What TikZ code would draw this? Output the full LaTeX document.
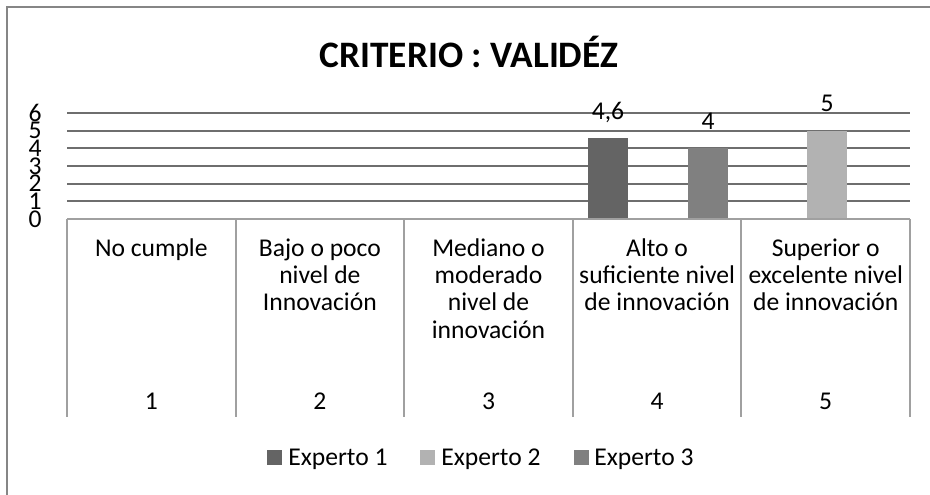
\documentclass[tikz,border=0pt]{standalone}
\usepackage{fontspec}
\setmainfont{Carlito}
\definecolor{framegray}{RGB}{134,134,134}
\definecolor{gridgray}{RGB}{110,110,110}
\definecolor{axisgray}{RGB}{160,160,160}
\definecolor{expA}{RGB}{100,100,100}
\definecolor{expB}{RGB}{178,178,178}
\definecolor{expC}{RGB}{128,128,128}
\newcommand\catlines[1]{\vtop{\lineskiplimit=-\maxdimen\baselineskip=20.5pt\halign{\hfil##\hfil\cr#1\crcr}}}
\begin{document}
\begin{tikzpicture}[x=0.75pt,y=-0.75pt,
  frameline/.style={draw=framegray,line width=1.4pt},
  gridline/.style={draw=gridgray,line width=1.4pt},
  axisline/.style={draw=axisgray,line width=1.4pt},
  txt/.style={font=\fontsize{19.2}{23}\selectfont,inner sep=0pt},
  lbl/.style={txt,anchor=base},
  ylbl/.style={txt,anchor=center},
  titlelbl/.style={font=\bfseries\fontsize{28}{34}\selectfont,inner sep=0pt,anchor=base},
  keybox/.style={inner sep=0pt,minimum size=11pt,anchor=north west}]
\useasboundingbox (0,0) rectangle (930,495);
\fill[white] (0,0) rectangle (930,495);
% frame (right and bottom sides are outside the picture)
\coordinate (fTL) at (7,7);
\coordinate (fTR) at (930,7);
\coordinate (fBL) at (7,495);
\draw[frameline] (fTR) -- (fTL) -- (fBL);
% title
\node[titlelbl] (title) at (469,68) {CRITERIO : VALIDÉZ};
% gridlines
\foreach \v in {1,...,6}{
  \coordinate (gL\v) at (67,{219-17.667*\v});
  \coordinate (gR\v) at (910,{219-17.667*\v});
  \draw[gridline] (gL\v) -- (gR\v);
}
\coordinate (a0L) at (67,219);
\coordinate (a0R) at (910,219);
% bars
\fill[expA] (588,138) rectangle (628,219);
\fill[expC] (688,148.3) rectangle (728,219);
\fill[expB] (807,130.7) rectangle (847,219);
\draw[axisline] (a0L) -- (a0R);
% category separators
\foreach \i/\x in {0/67,1/235.6,2/404.2,3/572.8,4/741.4,5/910}{
  \coordinate (vT\i) at (\x,219);
  \coordinate (vB\i) at (\x,417);
  \draw[axisline] (vT\i) -- (vB\i);
}
% y labels
\foreach \v in {0,...,6}{
  \node[ylbl] (y\v) at (35,{219-17.667*\v}) {\v};
}
% data labels
\node[lbl] (d1) at (608,120) {4,6};
\node[lbl] (d2) at (708,130) {4};
\node[lbl] (d3) at (827,112) {5};
% category labels
\node[lbl] (c1) at (151.3,256) {\catlines{No cumple}};
\node[lbl] (c2) at (319.9,256) {\catlines{Bajo o poco\cr nivel de\cr Innovación}};
\node[lbl] (c3) at (488.5,256) {\catlines{Mediano o\cr moderado\cr nivel de\cr innovación}};
\node[lbl] (c4) at (657.1,256) {\catlines{Alto o\cr suficiente nivel\cr de innovación}};
\node[lbl] (c5) at (825.7,256) {\catlines{Superior o\cr excelente nivel\cr de innovación}};
% category numbers
\node[lbl] (n1) at (151.3,409) {1};
\node[lbl] (n2) at (319.9,409) {2};
\node[lbl] (n3) at (488.5,409) {3};
\node[lbl] (n4) at (657.1,409) {4};
\node[lbl] (n5) at (825.7,409) {5};
% legend
\node[keybox,fill=expA] (k1) at (267,450) {};
\node[lbl,anchor=base west] (l1) at (288,465) {Experto 1};
\node[keybox,fill=expB] (k2) at (420,450) {};
\node[lbl,anchor=base west] (l2) at (441,465) {Experto 2};
\node[keybox,fill=expC] (k3) at (574,450) {};
\node[lbl,anchor=base west] (l3) at (594,465) {Experto 3};
\end{tikzpicture}
\end{document}
